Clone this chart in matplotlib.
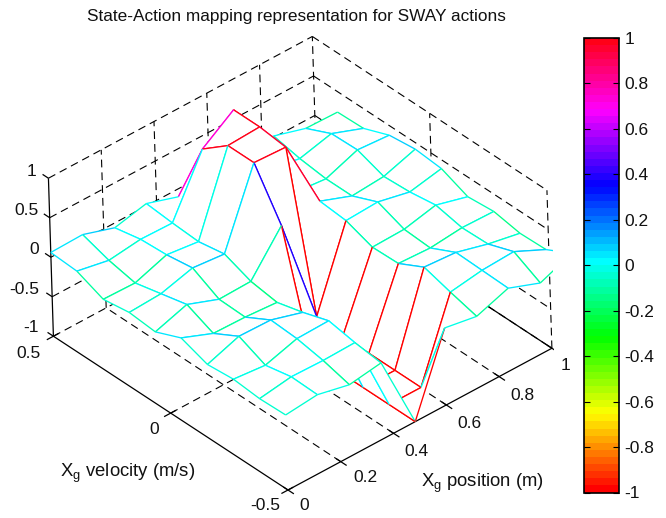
import numpy as np
import matplotlib
matplotlib.use('Agg')
import matplotlib.pyplot as plt
from matplotlib.cm import ScalarMappable
from matplotlib.colors import Normalize
from matplotlib.transforms import Bbox, IdentityTransform, TransformedBbox
from mpl_toolkits.mplot3d import proj3d
from mpl_toolkits.mplot3d.art3d import Line3DCollection, Poly3DCollection

plt.rcParams['font.family'] = ['Liberation Sans', 'DejaVu Sans']
plt.rcParams['mathtext.fontset'] = 'custom'
plt.rcParams['mathtext.rm'] = 'Liberation Sans'

W, H = 666, 518

# mesh grid, x runs a bit past the axis limit like in the original
x_pos = np.linspace(0, 1.085, 10)
y_vel = np.linspace(-0.5, 0.5, 10)

# one row per velocity, from -0.5 up to 0.5
z_row0 = [-0.05, -0.01, -0.10, -0.04, -1.00, -0.03, -0.10, 0.04, -0.11, 0.05]
z_row1 = [-0.06, 0.00, -0.01, 0.00, -1.00, -1.00, -0.01, 0.05, 0.07, -0.12]
z_row2 = [-0.03, -0.07, 0.05, 0.06, -1.00, -1.00, 0.09, 0.06, -0.05, -0.13]
z_row3 = [-0.06, 0.08, 0.07, -0.05, -1.00, -1.00, -0.08, -0.10, -0.06, -0.07]
z_row4 = [0.06, -0.10, -0.11, -0.14, -1.00, -1.00, -0.09, -0.08, 0.01, -0.10]
z_row5 = [-0.08, 0.05, -0.10, -0.09, 0.40, -0.97, 0.03, 0.05, -0.04, 0.04]
z_row6 = [-0.05, -0.03, 0.08, 0.04, 0.98, 0.96, 0.06, -0.09, -0.06, 0.07]
z_row7 = [-0.10, -0.11, 0.03, -0.02, 0.98, 1.00, -0.05, -0.09, 0.06, 0.03]
z_row8 = [0.04, -0.04, 0.01, 0.00, 0.72, 1.00, 0.02, -0.05, 0.05, -0.10]
z_row9 = [0.06, 0.07, -0.06, 0.03, -0.10, 0.00, 0.02, 0.02, -0.10, -0.11]
Z = np.array([z_row0, z_row1, z_row2, z_row3, z_row4,
              z_row5, z_row6, z_row7, z_row8, z_row9])

x_ticks = [0, 0.2, 0.4, 0.6, 0.8, 1]
y_ticks = [-0.5, 0, 0.5]
z_ticks = [-1, -0.5, 0, 0.5, 1]
cbar_ticks = [-1, -0.8, -0.6, -0.4, -0.2, 0, 0.2, 0.4, 0.6, 0.8, 1]
cbar_labels = ['-1', '-0.8', '-0.6', '-0.4', '-0.2', '0', '0.2', '0.4', '0.6', '0.8', '1']

TITLE = 'State-Action mapping representation for SWAY actions'
FS = 12.5
LW = 0.8
DASH = (0, (7, 4.5))

cmap = plt.get_cmap('hsv', 64)
norm = Normalize(-1, 1)

fig = plt.figure(figsize=(W / 100, H / 100), dpi=100)
ax = fig.add_axes([0, 0, 1, 1], projection='3d', proj_type='ortho', computed_zorder=False)
ax.set_box_aspect((1.79, 1.82, 1.0))
ax.view_init(elev=36.2, azim=-130.1, roll=1.8)
ax.set_xlim(0, 1, view_margin=0)
ax.set_ylim(-0.5, 0.5, view_margin=0)
ax.set_zlim(-1, 1, view_margin=0)
ax.set_axis_off()
ax.patch.set_alpha(0)


def to_px(x, y, z):
    # data point to picture pixels (y measured from the top)
    ax.apply_aspect()
    x2, y2, _ = proj3d.proj_transform(x, y, z, ax.get_proj())
    p = ax.transData.transform((x2, y2))
    return p[0], H - p[1]


# fit the 3d box on the pixel positions of the reference corners
side = 520.0
for _ in range(3):
    ax.set_position([0, 0, side / W, side / H])
    a = to_px(0, -0.5, -1)
    b = to_px(1, -0.5, -1)
    c = to_px(0, 0.5, -1)
    span = b[0] - c[0]
    side *= (551 - 52.5) / span
left, bottom = 0.0, 0.0
for _ in range(3):
    ax.set_position([left / W, bottom / H, side / W, side / H])
    a = to_px(0, -0.5, -1)
    left += 288 - a[0]
    bottom -= 490 - a[1]
ax.set_position([left / W, bottom / H, side / W, side / H])


def line3d(xs, ys, zs, ls='-', color='k', lw=LW, zorder=1):
    ax.plot(xs, ys, zs, ls=ls, color=color, lw=lw, zorder=zorder, solid_capstyle='butt')


# dashed grid on the two back walls and the floor
for z in z_ticks:
    line3d([0, 1], [0.5, 0.5], [z, z], DASH)
    line3d([1, 1], [0.5, -0.5], [z, z], DASH)
for x in x_ticks[1:]:
    line3d([x, x], [0.5, 0.5], [-1, 1], DASH)
for x in x_ticks[1:-1]:
    line3d([x, x], [-0.5, 0.5], [-1, -1], DASH)
line3d([0, 1], [0, 0], [-1, -1], DASH)
line3d([1, 1], [0, 0], [-1, 1], DASH)
line3d([1, 1], [-0.5, -0.5], [-1, 1], DASH)

# solid axes
line3d([0, 1], [-0.5, -0.5], [-1, -1], lw=0.9)
line3d([1, 1], [-0.5, 0.5], [-1, -1], lw=0.9)
line3d([0, 0], [-0.5, 0.5], [-1, -1], lw=0.9)
line3d([0, 0], [0.5, 0.5], [-1, 1], lw=0.9)
for x in x_ticks:
    line3d([x, x], [-0.525, -0.48], [-1, -1], lw=0.9)
for y in y_ticks:
    line3d([-0.025, 0.02], [y, y], [-1, -1], lw=0.9)
for z in z_ticks:
    line3d([0, 0], [0.5, 0.525], [z, z], lw=0.9)

# mesh: white cells drawn back to front so they hide what is behind
clip = TransformedBbox(Bbox([[0, 0], [553, H]]), IdentityTransform())
order = 10
for i in range(8, -1, -1):
    for j in range(8, -1, -1):
        p00 = (x_pos[i], y_vel[j], Z[j, i])
        p10 = (x_pos[i + 1], y_vel[j], Z[j, i + 1])
        p01 = (x_pos[i], y_vel[j + 1], Z[j + 1, i])
        p11 = (x_pos[i + 1], y_vel[j + 1], Z[j + 1, i + 1])
        face = Poly3DCollection([[p00, p10, p11, p01]], facecolors='white', edgecolors='none')
        face.set_zorder(order)
        ax.add_collection3d(face, autolim=False)
        face.set_clip_box(clip)
        # each edge takes the colour of its lower index node
        segs = [[p00, p10], [p00, p01], [p10, p11], [p01, p11]]
        vals = [Z[j, i], Z[j, i], Z[j, i + 1], Z[j + 1, i]]
        edges = Line3DCollection(segs, colors=cmap(norm(vals)), linewidths=LW + 0.15)
        edges.set_zorder(order + 1)
        ax.add_collection3d(edges, autolim=False)
        edges.set_clip_box(clip)
        order += 2


def txt(px, py, s, ha='center', va='center', size=FS):
    fig.text(px / W, 1 - py / H, s, ha=ha, va=va, fontsize=size, color='#111111')


# tick labels
for s, py in zip(['-1', '-0.5', '0', '0.5', '1'], [328, 289, 249, 210, 172]):
    txt(39 if s != '1' else 36.5, py, s, ha='right')
for s, px, py in zip(['0.5', '0', '-0.5'], [28, 154, 265], [353, 429, 505]):
    txt(px, py, s)
for s, px, py in zip(['0', '0.2', '0.4', '0.6', '0.8', '1'],
                     [304, 365, 416, 469, 522, 566], [505, 478, 451, 423, 396, 365]):
    txt(px, py, s)

txt(127.5, 473, r'X$_{\mathrm{g}}$ velocity (m/s)', size=13.3)
txt(482.5, 483, r'X$_{\mathrm{g}}$ position (m)', size=13.3)
txt(296.5, 16, TITLE, size=12.45)

# colorbar
cax = fig.add_axes([584 / W, 1 - 492.5 / H, 35 / W, 454.5 / H])
cb = fig.colorbar(ScalarMappable(norm=norm, cmap=cmap), cax=cax)
cb.set_ticks(cbar_ticks)
cb.set_ticklabels(cbar_labels)
cb.outline.set_linewidth(1.2)
cax.tick_params(axis='y', direction='in', left=True, right=True, length=4, width=0.8,
                labelsize=FS, pad=4, labelcolor='#111111')

fig.savefig('out.png', dpi=100)
